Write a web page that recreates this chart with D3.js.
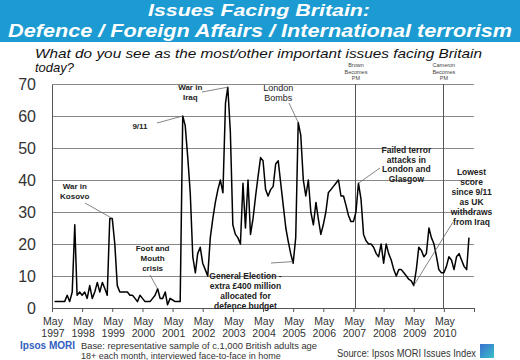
<!DOCTYPE html>
<html><head><meta charset="utf-8">
<script src="https://cdn.jsdelivr.net/npm/d3@7"></script>
<style>
html,body{margin:0;padding:0;background:#fff;}
svg{display:block;font-family:"Liberation Sans",Arial,sans-serif;}
</style></head>
<body>
<svg id="c" width="520" height="360"></svg>
<script>
// ---- data ----
const startMonth = "1997-06";
const values = [
 2,2,2,2,2,4,2,5,26,4,5,4,5,3,7,3,5,8,5,8,6,4,28,28,20,7,5,5,5,5,4,4,3,2,4,3,2,2,2,3,4,6,3,3,5,1,3,2.5,2,2,2,
 60,57,47,36,16,11,17,19,14,12,10,22,28,33,37,40,36,64,69,55,26,23,22,20,39,25,40,23,28,35,41,47,46,37,35,37,38,45,46,39,32,25,21,17,14,22,
 58,54,40,35,40,30,26,33,28,23,26,30,36,37,38,39,40,35,35,32,29,27,27,30,39,34,23,21,20,20,19,17,16,20,14,20,17,15,12,10,12,
 12,11,10,9,8.5,7,12,19,18,16,17,25,22,20,16,12,11,11,13,16,15,12,16,17,15,13,12,22
];
const yTicks = [0,10,20,30,40,50,60,70];
const xTickYears = [1997,1998,1999,2000,2001,2002,2003,2004,2005,2006,2007,2008,2009,2010];
const pmEvents = [
 {date:"2007-06", lines:["Brown","Becomes","PM"]},
 {date:"2010-05", lines:["Cameron","Becomes","PM"]}
];
const annotations = [
 {lines:["War in","Kosovo"], at:"1999-05", v:28, tx:"1998-02", tv:37.2},
 {lines:["9/11"], at:"2001-09", v:60, tx:"2000-04", tv:56},
 {lines:["War in","Iraq"], at:"2003-03", v:69, tx:"2001-12", tv:68},
 {lines:["London","Bombs"], at:"2005-07", v:58, tx:"2004-11", tv:67.8},
 {lines:["Foot and","Mouth","crisis"], at:"2000-11", v:6, tx:"2000-09", tv:17.8},
 {lines:["General Election -","extra £400 million","allocated for","defence budget"], at:"2005-05", v:14.5, tx:"2003-10", tv:9},
 {lines:["Failed terror","attacks in","London and","Glasgow"], at:"2007-07", v:39, tx:"2009-02", tv:48.4},
 {lines:["Lowest","score","since 9/11","as UK","withdraws","from Iraq"], at:"2009-05", v:7, tx:"2011-04", tv:41.7}
];

// ---- setup ----
const svg = d3.select("#c");
const parse = d3.timeParse("%Y-%m");
const start = parse(startMonth);
const series = values.map((v,i)=>({date:d3.timeMonth.offset(start,i), v}));

const x = d3.scaleTime().domain([parse("1997-05"), parse("2011-05")]).range([52,474]);
const y = d3.scaleLinear().domain([0,70]).range([308,84]);

// title banner
svg.append("rect").attr("x",0).attr("y",0).attr("width",520).attr("height",42).attr("fill","#1b9bd2");
svg.append("text").attr("x",259).attr("y",16).attr("text-anchor","middle")
  .attr("fill","#fff").attr("font-weight","bold").attr("font-style","italic").attr("font-size",17)
  .attr("textLength",222).attr("lengthAdjust","spacingAndGlyphs")
  .text("Issues Facing Britain:");
svg.append("text").attr("x",260).attr("y",37).attr("text-anchor","middle")
  .attr("fill","#fff").attr("font-weight","bold").attr("font-style","italic").attr("font-size",17.5)
  .attr("textLength",504).attr("lengthAdjust","spacingAndGlyphs")
  .text("Defence / Foreign Affairs / International terrorism");

// subtitle
svg.append("text").attr("x",35).attr("y",58).attr("fill","#111").attr("font-style","italic").attr("font-size",13)
  .attr("textLength",447).attr("lengthAdjust","spacingAndGlyphs")
  .text("What do you see as the most/other important issues facing Britain");
svg.append("text").attr("x",35).attr("y",72).attr("fill","#111").attr("font-style","italic").attr("font-size",13)
  .text("today?");

// gridlines
svg.append("g").selectAll("line").data(yTicks.filter(d=>d>0)).join("line")
  .attr("x1",52).attr("x2",474).attr("y1",d=>y(d)).attr("y2",d=>y(d))
  .attr("stroke","#888").attr("stroke-width",1).attr("shape-rendering","crispEdges");

// y axis
const yAxis = svg.append("g").attr("transform","translate(52,0)")
  .call(d3.axisLeft(y).tickValues(yTicks).tickSize(0).tickPadding(16));
yAxis.select(".domain").attr("stroke","#555").attr("shape-rendering","crispEdges");
yAxis.selectAll("text").attr("font-size",16).attr("fill","#333")
  .attr("font-family","'Liberation Sans',Arial,sans-serif");

// x axis
const xTickDates = xTickYears.map(yy=>parse(yy+"-05")).concat([parse("2011-05")]);
const xAxis = svg.append("g").attr("transform","translate(0,308)")
  .call(d3.axisBottom(x).tickValues(xTickDates).tickSize(4).tickFormat(""));
xAxis.select(".domain").attr("stroke","#555").attr("shape-rendering","crispEdges");
xAxis.selectAll(".tick line").attr("stroke","#555");
const xl = svg.append("g").attr("font-size",10.5).attr("fill","#333").attr("text-anchor","middle");
xTickYears.forEach(yy=>{
  const px = x(parse(yy+"-05"))+1;
  const t = xl.append("text");
  t.append("tspan").attr("x",px).attr("y",325).text("May");
  t.append("tspan").attr("x",px).attr("y",337).text(yy);
});

// PM vertical lines
pmEvents.forEach(e=>{
  const px = x(parse(e.date));
  svg.append("line").attr("x1",px).attr("x2",px).attr("y1",84).attr("y2",308)
    .attr("stroke","#555").attr("stroke-width",1).attr("shape-rendering","crispEdges");
  const t = svg.append("text").attr("text-anchor","middle").attr("font-size",5.5).attr("fill","#444");
  e.lines.forEach((l,i)=>t.append("tspan").attr("x",px).attr("y",67+i*6.5).text(l));
});

// line
svg.append("path").datum(series)
  .attr("d", d3.line().x(d=>x(d.date)).y(d=>y(d.v)))
  .attr("fill","none").attr("stroke","#000").attr("stroke-width",1.5).attr("stroke-linejoin","round");

// annotations
const annStyle = {
 "War in,Kosovo":{fs:8,lh:10,leader:[85,203]},
 "9/11":{fs:8,lh:10,leader:[157,123]},
 "War in,Iraq":{fs:8,lh:10,leader:[202,92]},
 "London,Bombs":{fs:9,lh:10,leader:[289,103],normal:true},
 "Foot and,Mouth,crisis":{fs:8,lh:10,leader:[150,275]},
 "General Election -,extra £400 million,allocated for,defence budget":{fs:8.5,lh:9.8,leader:[271,263]},
 "Failed terror,attacks in,London and,Glasgow":{fs:8.5,lh:9.5,leader:[380,168]},
 "Lowest,score,since 9/11,as UK,withdraws,from Iraq":{fs:8.5,lh:10,leader:[453,222]}
};
annotations.forEach(a=>{
  const st = annStyle[a.lines.join(",")];
  const cx = x(parse(a.tx)), cy = y(a.tv);
  const t = svg.append("text").attr("text-anchor","middle").attr("font-size",st.fs)
    .attr("font-weight",st.normal?"normal":"bold").attr("fill","#222");
  a.lines.forEach((l,i)=>t.append("tspan").attr("x",cx).attr("y",cy+i*st.lh).text(l));
  svg.append("line").attr("x1",st.leader[0]).attr("y1",st.leader[1])
    .attr("x2",x(parse(a.at))).attr("y2",y(a.v)).attr("stroke","#666").attr("stroke-width",0.8);
});

// footer
svg.append("text").attr("x",20).attr("y",348.5).attr("font-size",10).attr("font-weight","bold").attr("fill","#3060c0").text("Ipsos MORI");
svg.append("text").attr("x",81).attr("y",348.5).attr("font-size",9).attr("fill","#333")
  .attr("textLength",236).attr("lengthAdjust","spacingAndGlyphs")
  .text("Base: representative sample of c.1,000 British adults age");
svg.append("text").attr("x",81).attr("y",358.5).attr("font-size",9).attr("fill","#333")
  .text("18+ each month, interviewed face-to-face in home");
svg.append("text").attr("x",337).attr("y",357).attr("font-size",10).attr("fill","#333")
  .attr("textLength",139).attr("lengthAdjust","spacingAndGlyphs")
  .text("Source: Ipsos MORI Issues Index");
const lg = svg.append("defs").append("linearGradient").attr("id","lg").attr("x1",0).attr("y1",0).attr("x2",1).attr("y2",1);
lg.append("stop").attr("offset","0").attr("stop-color","#3a6fd0");
lg.append("stop").attr("offset","1").attr("stop-color","#3bc0c8");
svg.append("rect").attr("x",480).attr("y",344).attr("width",14).attr("height",14).attr("fill","url(#lg)");
</script>
</body></html>
